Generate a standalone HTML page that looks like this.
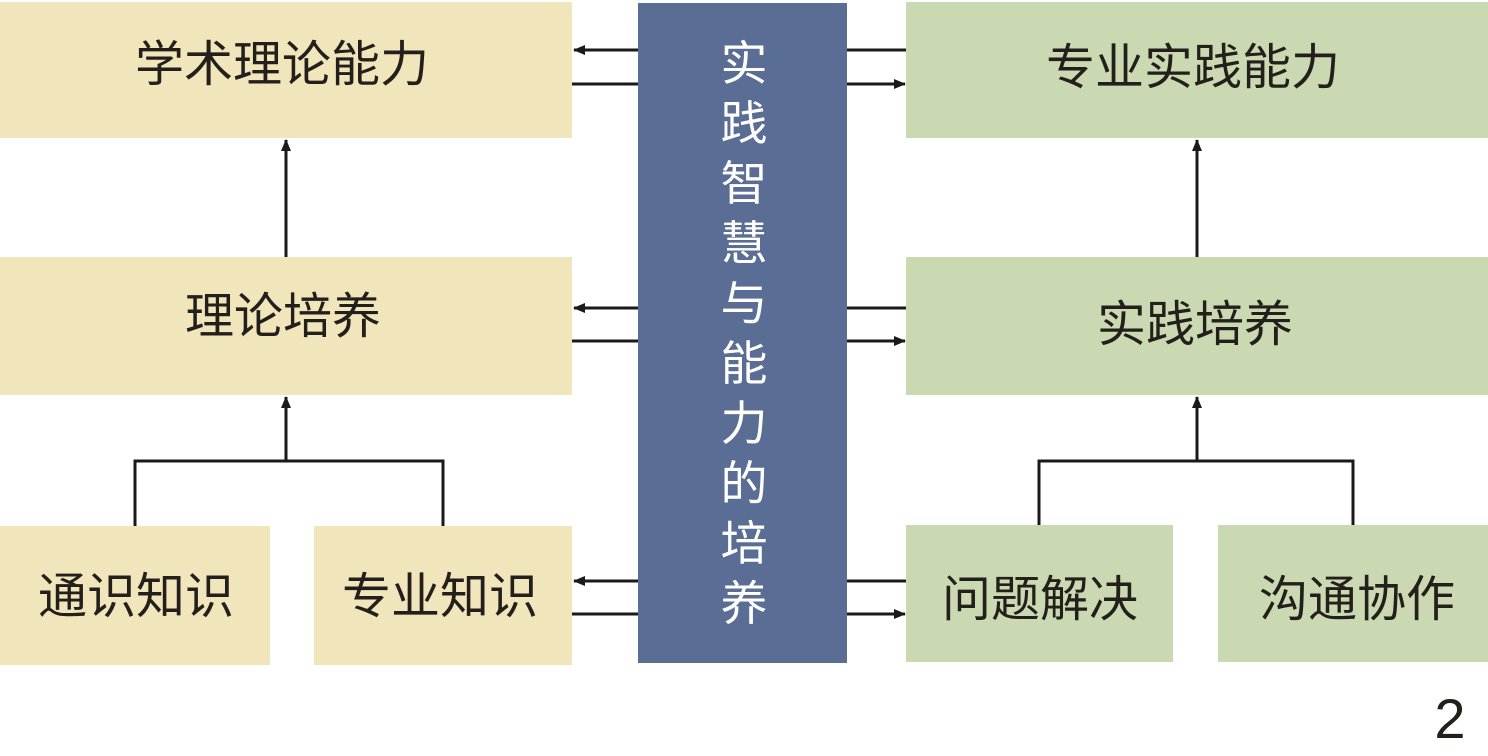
<!DOCTYPE html>
<html>
<head>
<meta charset="utf-8">
<style>
html,body{margin:0;padding:0;background:#fff;}
svg{display:block;}
text{font-family:"Liberation Sans","Noto Sans CJK SC",sans-serif;}
.t{font-size:49px;fill:#231f1a;text-anchor:middle;}
.c{font-size:47px;fill:#ffffff;text-anchor:middle;}
</style>
</head>
<body>
<svg width="1488" height="756" viewBox="0 0 1488 756" xmlns="http://www.w3.org/2000/svg">
  <defs>
    <marker id="ah" markerWidth="12" markerHeight="10" refX="11" refY="5" orient="auto" markerUnits="userSpaceOnUse">
      <path d="M0,0 L12,5 L0,10 Z" fill="#1a1a1a"/>
    </marker>
  </defs>
  <!-- left boxes -->
  <rect x="0" y="2" width="572" height="136" fill="#f0e5bb"/>
  <rect x="0" y="257" width="572" height="138" fill="#f0e5bb"/>
  <rect x="0" y="526" width="270" height="139" fill="#f0e5bb"/>
  <rect x="314" y="526" width="258" height="139" fill="#f0e5bb"/>
  <!-- right boxes -->
  <rect x="906" y="2" width="582" height="136" fill="#cad9b2"/>
  <rect x="906" y="257" width="582" height="138" fill="#cad9b2"/>
  <rect x="906" y="525" width="267" height="137" fill="#cad9b2"/>
  <rect x="1218" y="525" width="270" height="137" fill="#cad9b2"/>
  <!-- center -->
  <rect x="638" y="3" width="209" height="660" fill="#5a6d94"/>

  <g stroke="#1a1a1a" stroke-width="3" fill="none">
    <!-- horizontal arrows left -->
    <line x1="638" y1="50" x2="574" y2="50" marker-end="url(#ah)"/>
    <line x1="638" y1="84" x2="572" y2="84"/>
    <line x1="638" y1="308" x2="574" y2="308" marker-end="url(#ah)"/>
    <line x1="638" y1="341" x2="572" y2="341"/>
    <line x1="638" y1="581" x2="574" y2="581" marker-end="url(#ah)"/>
    <line x1="638" y1="614" x2="572" y2="614"/>
    <!-- horizontal arrows right -->
    <line x1="847" y1="50" x2="906" y2="50"/>
    <line x1="847" y1="84" x2="905" y2="84" marker-end="url(#ah)"/>
    <line x1="847" y1="308" x2="906" y2="308"/>
    <line x1="847" y1="341" x2="905" y2="341" marker-end="url(#ah)"/>
    <line x1="847" y1="581" x2="906" y2="581"/>
    <line x1="847" y1="614" x2="905" y2="614" marker-end="url(#ah)"/>
    <!-- vertical arrows -->
    <line x1="286" y1="257" x2="286" y2="140" marker-end="url(#ah)"/>
    <line x1="286" y1="461" x2="286" y2="397" marker-end="url(#ah)"/>
    <line x1="1197" y1="257" x2="1197" y2="140" marker-end="url(#ah)"/>
    <line x1="1197" y1="461" x2="1197" y2="397" marker-end="url(#ah)"/>
    <!-- brackets -->
    <polyline points="135,526 135,461 443,461 443,526"/>
    <polyline points="1039,525 1039,461 1353,461 1353,525"/>
  </g>

  <!-- labels -->
  <text class="t" x="282" y="81">学术理论能力</text>
  <text class="t" x="283" y="333">理论培养</text>
  <text class="t" x="136" y="613">通识知识</text>
  <text class="t" x="440" y="613">专业知识</text>
  <text class="t" x="1193" y="84">专业实践能力</text>
  <text class="t" x="1195" y="341">实践培养</text>
  <text class="t" x="1040" y="616">问题解决</text>
  <text class="t" x="1357" y="616">沟通协作</text>

  <!-- center vertical text -->
  <text class="c" x="744" y="80">实</text>
  <text class="c" x="744" y="140">践</text>
  <text class="c" x="744" y="200">智</text>
  <text class="c" x="744" y="260">慧</text>
  <text class="c" x="744" y="320">与</text>
  <text class="c" x="744" y="380">能</text>
  <text class="c" x="744" y="440">力</text>
  <text class="c" x="744" y="500">的</text>
  <text class="c" x="744" y="560">培</text>
  <text class="c" x="744" y="620">养</text>

  <text x="1450" y="738" style="font-size:56px;fill:#231f1a;text-anchor:middle;">2</text>
</svg>
</body>
</html>
